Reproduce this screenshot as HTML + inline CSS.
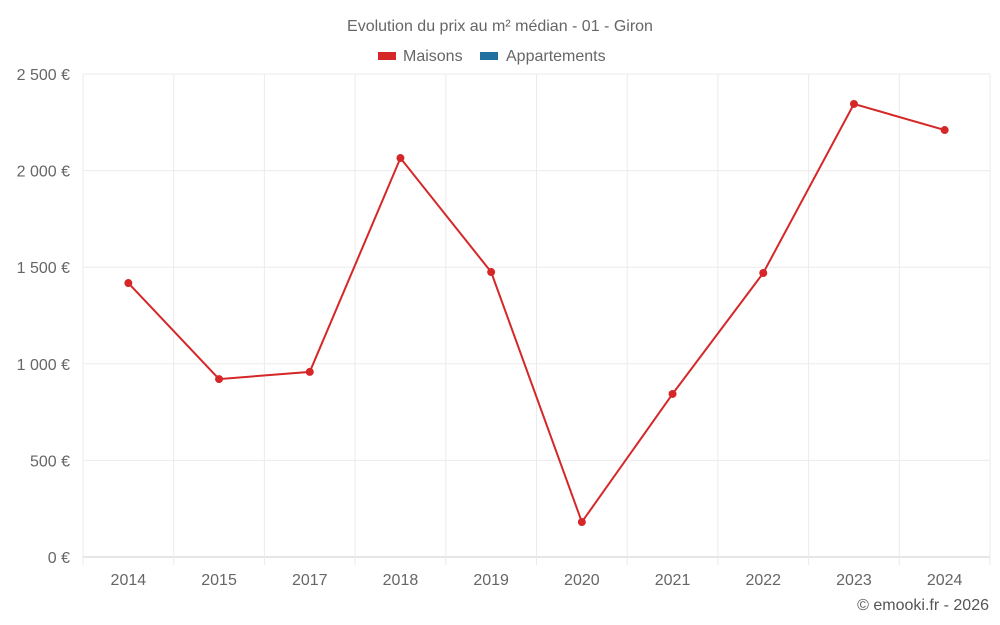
<!DOCTYPE html>
<html><head><meta charset="utf-8">
<style>
html,body{margin:0;padding:0;background:#fff;}
svg{display:block;font-family:"Liberation Sans",sans-serif;}
</style></head>
<body>
<svg id="chart" width="1000" height="625" viewBox="0 0 1000 625">
<text x="500" y="31" text-anchor="middle" font-size="16" fill="#666">Evolution du prix au m² médian - 01 - Giron</text>
<g>
<g>
<rect x="378" y="52" width="18" height="8" fill="#d62728"></rect>
<text x="403" y="61" font-size="16" fill="#666">Maisons</text></g>
<g>
<rect x="480" y="52" width="18" height="8" fill="#1f6fa0"></rect>
<text x="506" y="61" font-size="16" fill="#666">Appartements</text></g>
</g>
<g id="grid"></g>
<g id="axes"></g>
<g id="series"></g>
<text x="989" y="610" text-anchor="end" font-size="16" fill="#555">© emooki.fr - 2026</text>
</svg>
<script>
const categories = ["2014","2015","2017","2018","2019","2020","2021","2022","2023","2024"];
const maisons = [1418, 921, 958, 2065, 1475, 181, 844, 1470, 2345, 2210];
const yTicks = [0, 500, 1000, 1500, 2000, 2500];
const yTickLabels = ["0 €","500 €","1 000 €","1 500 €","2 000 €","2 500 €"];

const NS = "http://www.w3.org/2000/svg";
const plotLeft = 83, plotRight = 990, plotTop = 74, plotBottom = 557, yMax = 2500;
const band = (plotRight - plotLeft) / categories.length;
function xs(i){ return plotLeft + band * (i + 0.5); }
function ys(v){ return plotBottom - (v / yMax) * (plotBottom - plotTop); }
function mk(tag, attrs, parent){ const e = document.createElementNS(NS, tag); for (const k in attrs) e.setAttribute(k, attrs[k]); parent.appendChild(e); return e; }

const grid = document.getElementById('grid');
const axes = document.getElementById('axes');
const series = document.getElementById('series');

yTicks.forEach((t, i) => {
  const l = mk('line', {x1:plotLeft, x2:plotRight, y1:ys(t), y2:ys(t), stroke: t===0 ? '#ccc' : '#ebebeb', 'stroke-width':1}, grid);
  
  
  const tx = mk('text', {x:70, y:ys(t)+6, 'text-anchor':'end', 'font-size':16, fill:'#666'}, axes);
  tx.textContent = yTickLabels[i];
  
  
});
for (let i = 0; i <= categories.length; i++) {
  const gx = plotLeft + band * i;
  const l = mk('line', {x1:gx, x2:gx, y1:plotTop, y2:plotBottom+8, stroke:'#ebebeb', 'stroke-width':1}, grid);
  
  
}
categories.forEach((c, i) => {
  const tx = mk('text', {x:xs(i), y:585, 'text-anchor':'middle', 'font-size':16, fill:'#666'}, axes);
  tx.textContent = c;
  
  
});
const pts = maisons.map((v, i) => xs(i) + ',' + ys(v)).join(' ');
const pl = mk('polyline', {points:pts, fill:'none', stroke:'#d62728', 'stroke-width':2}, series);


maisons.forEach((v, i) => {
  const c = mk('circle', {cx:xs(i), cy:ys(v), r:4, fill:'#d62728'}, series);
  
  
});
</script>
</body></html>
